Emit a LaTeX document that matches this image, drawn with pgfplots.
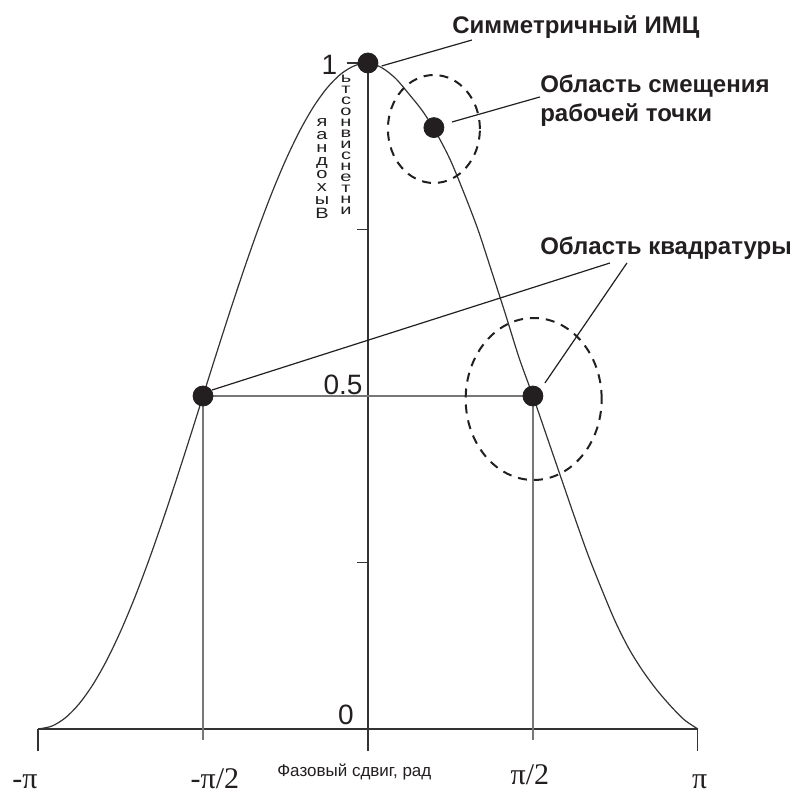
\documentclass[border=0pt]{standalone}
\usepackage{pgfplots}
\pgfplotsset{compat=1.18}
\usepackage{fontspec}
\setmainfont{Liberation Sans}
\newfontfamily\serif{Liberation Serif}
\definecolor{ink}{HTML}{231F20}
\definecolor{ln}{HTML}{333333}
\definecolor{gl}{HTML}{777777}
\begin{document}
\begin{tikzpicture}
\begin{axis}[
  name=ax,
  scale only axis, width=395pt, height=397pt,
  xmin=-3.504, xmax=4.019, ymin=-0.0976, ymax=1.0946,
  axis lines=none, clip=false,
]
% curve
\addplot[ln, line width=0.6pt, smooth] coordinates {
(-3.1416,0) (-3.0107,0.0043) (-2.8798,0.0170) (-2.7489,0.0381) (-2.6180,0.0670)
(-2.4871,0.1033) (-2.3562,0.1465) (-2.2253,0.1956) (-2.0944,0.2500) (-1.9635,0.3087)
(-1.8326,0.3706) (-1.7017,0.4347) (-1.5708,0.5) (-1.4399,0.5653) (-1.3090,0.6294)
(-1.1781,0.6913) (-1.0472,0.75) (-0.9163,0.8044) (-0.7854,0.8536) (-0.6545,0.8967)
(-0.5236,0.9330) (-0.3927,0.9619) (-0.2618,0.9830) (-0.1309,0.9957) (0,1)
(0.1309,0.993) (0.2618,0.977) (0.3927,0.953) (0.5236,0.927) (0.6545,0.894)
(0.7854,0.854) (0.9163,0.804) (1.0472,0.750) (1.1781,0.687) (1.3090,0.623)
(1.4399,0.557) (1.5708,0.5) (1.7017,0.440) (1.8326,0.380) (1.9635,0.320)
(2.0944,0.262) (2.2253,0.210) (2.3562,0.161) (2.4871,0.120) (2.6180,0.087)
(2.7489,0.059) (2.8798,0.035) (3.0107,0.014) (3.1416,0)};
% baseline and y axis
\addplot[ln, line width=0.6pt] coordinates {(-3.1416,0) (3.1416,0)};
\addplot[ln, line width=0.6pt] coordinates {(0,-0.033) (0,1)};
% bottom ticks
\addplot[ln, line width=0.6pt] coordinates {(-3.1416,0) (-3.1416,-0.033)};
\addplot[ln, line width=0.6pt] coordinates {(3.1416,0) (3.1416,-0.033)};
% y ticks
\addplot[ln, line width=0.6pt] coordinates {(-0.105,0.25) (0,0.25)};
\addplot[ln, line width=0.6pt] coordinates {(-0.105,0.75) (0,0.75)};
\addplot[ln, line width=0.6pt] coordinates {(-0.2,1) (0,1)};
% quadrature guides
\addplot[gl, line width=0.8pt] coordinates {(-1.5708,0.5) (1.5708,0.5)};
\addplot[gl, line width=0.8pt] coordinates {(-1.5708,0.5) (-1.5708,-0.0165)};
\addplot[gl, line width=0.8pt] coordinates {(1.5708,0.5) (1.5708,-0.0165)};
% leader lines
\addplot[ink, line width=0.6pt] coordinates {(0.130,0.9955) (0.990,1.0345)};
\addplot[ink, line width=0.6pt] coordinates {(0.800,0.9114) (1.637,0.949)};
\addplot[ink, line width=0.6pt] coordinates {(-1.485,0.509) (2.304,0.6997)};
\addplot[ink, line width=0.6pt] coordinates {(1.685,0.5195) (2.466,0.6997)};
% dots
\addplot[only marks, mark=*, mark size=5pt, ink] coordinates {(0,1) (0.628,0.903) (-1.5708,0.5) (1.5708,0.5)};
% dashed regions
\draw[ink, line width=1pt, dash pattern=on 4.5pt off 3.5pt] (axis cs:0.628,0.9009) ellipse [x radius=23pt, y radius=27pt];
\draw[ink, line width=1pt, dash pattern=on 4.5pt off 3.5pt] (axis cs:1.578,0.4955) ellipse [x radius=34pt, y radius=40.5pt];
% texts
\node[anchor=west, font=\fontsize{12}{14}\selectfont\bfseries, text=ink, inner sep=0pt] at (axis cs:0.800,1.054) {Симметричный ИМЦ};
\node[anchor=west, align=left, font=\fontsize{12}{14.5}\selectfont\bfseries, text=ink, inner sep=0pt] at (axis cs:1.637,0.944) {Область смещения\\рабочей точки};
\node[anchor=west, font=\fontsize{12}{14}\selectfont\bfseries, text=ink, inner sep=0pt] at (axis cs:1.637,0.722) {Область квадратуры};
% tick numbers
\node[anchor=base east, font=\fontsize{14}{16}\selectfont, text=ink, inner sep=0pt] at (axis cs:-0.29,0.982) {1};
\node[anchor=base east, font=\fontsize{14}{16}\selectfont, text=ink, inner sep=0pt] at (axis cs:-0.048,0.5015) {0.5};
\node[anchor=base east, font=\fontsize{14}{16}\selectfont, text=ink, inner sep=0pt] at (axis cs:-0.133,0.0075) {0};
% x labels
\node[anchor=base, font=\fontsize{15}{17}\selectfont\serif, text=ink, inner sep=0pt] at (axis cs:-3.266,-0.0900) {-π};
\node[anchor=base, font=\fontsize{15}{17}\selectfont\serif, text=ink, inner sep=0pt] at (axis cs:-1.457,-0.0900) {-π/2};
\node[anchor=base, font=\fontsize{15}{17}\selectfont\serif, text=ink, inner sep=0pt] at (axis cs:1.542,-0.0826) {π/2};
\node[anchor=base, font=\fontsize{15}{17}\selectfont\serif, text=ink, inner sep=0pt] at (axis cs:3.160,-0.0900) {π};
\node[anchor=base west, font=\fontsize{8.5}{10}\selectfont, text=ink, inner sep=0pt] at (axis cs:-0.867,-0.0706) {Фазовый сдвиг, рад};
% stacked y label
\node[text=ink, inner sep=0pt] at (axis cs:-0.438,0.839) {\scalebox{1}[0.75]{\fontsize{10}{8.67}\selectfont\begin{tabular}{@{}c@{}}я\\а\\н\\д\\о\\х\\ы\\В\end{tabular}}};
\node[text=ink, inner sep=0pt] at (axis cs:-0.209,0.875) {\scalebox{1}[0.7]{\fontsize{10}{7.86}\selectfont\begin{tabular}{@{}c@{}}ь\\т\\с\\о\\н\\в\\и\\с\\н\\е\\т\\н\\и\end{tabular}}};
\end{axis}
\pgfresetboundingbox
\path[use as bounding box] (ax.south west) rectangle (ax.north east);
\end{tikzpicture}
\end{document}
